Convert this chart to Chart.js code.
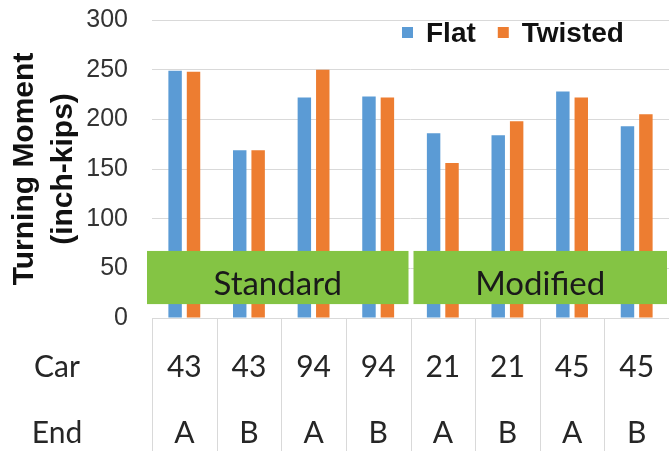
<!DOCTYPE html>
<html>
<head>
<meta charset="utf-8">
<script src="https://cdn.jsdelivr.net/npm/chart.js@4"></script>
<style>
  html, body { margin: 0; padding: 0; background: #fff; }
  #wrap { width: 669px; height: 451px; }
</style>
</head>
<body>
<div id="wrap"><canvas id="momentChart"></canvas></div>
<script>
const carLabels = ["43", "43", "94", "94", "21", "21", "45", "45"];
const endLabels = ["A", "B", "A", "B", "A", "B", "A", "B"];
const flatValues = [249, 169, 222, 223, 186, 184, 228, 193];
const twistedValues = [248, 169, 250, 222, 156, 198, 222, 205];
const groupNames = ["Standard", "Modified"];
const groupStarts = [0, 4];
const groupEnds = [3, 7];
const yTicks = [0, 50, 100, 150, 200, 250, 300];

const BLUE = "#5b9bd5";
const ORANGE = "#ed7d31";
const GREEN = "#84c444";
const GRID = "#d9d9d9";
const LABEL_PAD = 16;
const LINE_H = 66;

// table under the plot, green group boxes and the legend
const overlayPlugin = {
    id: "overlay",
    afterDatasetsDraw(chart) {
        const { ctx, chartArea, scales } = chart;
        const y = scales.y;
        const w = (chartArea.right - chartArea.left) / carLabels.length;

        // group boxes
        ctx.save();
        for (let g = 0; g < groupNames.length; g++) {
            const x1 = chartArea.left + groupStarts[g] * w + (groupStarts[g] === 0 ? -5 : 3);
            const x2 = chartArea.left + (groupEnds[g] + 1) * w - 2;
            const yTop = y.getPixelForValue(67.5);
            const yBot = y.getPixelForValue(14);
            ctx.fillStyle = GREEN;
            ctx.fillRect(x1, yTop, x2 - x1, yBot - yTop);
            ctx.fillStyle = "#1a1a1a";
            ctx.font = "33px Lato";
            ctx.textAlign = "center";
            ctx.textBaseline = "alphabetic";
            ctx.fillText(groupNames[g], (x1 + x2) / 2, yBot - 9);
        }
        ctx.restore();
    },
    afterDraw(chart) {
        const { ctx, chartArea } = chart;
        const w = (chartArea.right - chartArea.left) / carLabels.length;
        ctx.save();

        // table lines
        ctx.strokeStyle = GRID;
        ctx.lineWidth = 1;
        for (let i = 0; i <= carLabels.length; i++) {
            const px = Math.round(chartArea.left + i * w) + 0.5;
            ctx.beginPath();
            ctx.moveTo(px, chartArea.bottom);
            ctx.lineTo(px, chart.height);
            ctx.stroke();
        }

        // row titles
        ctx.fillStyle = "#262626";
        ctx.font = "30px Lato";
        ctx.textAlign = "center";
        ctx.textBaseline = "middle";
        const row1 = chartArea.bottom + LABEL_PAD + LINE_H / 2;
        ctx.fillText("Car", 57, row1);
        ctx.fillText("End", 57, row1 + LINE_H);

        // legend
        ctx.font = "bold 28px 'Liberation Sans'";
        ctx.textAlign = "left";
        const ly = 33;
        let lx = 402;
        chart.data.datasets.forEach(ds => {
            ctx.fillStyle = ds.backgroundColor;
            ctx.fillRect(lx, ly - 6, 11, 11);
            ctx.fillStyle = "#111";
            ctx.fillText(ds.label, lx + 24, ly + 1);
            lx += 24 + ctx.measureText(ds.label).width + 22;
        });
        ctx.restore();
    }
};

const chartLabels = carLabels.map((c, i) => [c, endLabels[i]]);

new Chart(document.getElementById("momentChart"), {
    type: "bar",
    data: {
        labels: chartLabels,
        datasets: [
            {
                label: "Flat",
                data: flatValues,
                backgroundColor: BLUE,
                categoryPercentage: 0.57,
                barPercentage: 0.73
            },
            {
                label: "Twisted",
                data: twistedValues,
                backgroundColor: ORANGE,
                categoryPercentage: 0.57,
                barPercentage: 0.73
            }
        ]
    },
    options: {
        responsive: true,
        maintainAspectRatio: false,
        animation: false,
        layout: { padding: { top: 20, right: 0, bottom: 0, left: 0 } },
        plugins: {
            legend: { display: false },
            tooltip: { enabled: false }
        },
        scales: {
            x: {
                grid: { display: false, drawTicks: false },
                border: { display: true, color: GRID },
                ticks: {
                    color: "#262626",
                    font: { family: "Lato", size: 30, lineHeight: LINE_H / 30 },
                    padding: LABEL_PAD,
                    maxRotation: 0,
                    autoSkip: false
                },
                afterFit: scale => {
                    scale.height = 133;
                    scale.paddingLeft = 0;
                    scale.paddingRight = 0;
                }
            },
            y: {
                min: 0,
                max: 300,
                afterBuildTicks: scale => { scale.ticks = yTicks.map(v => ({ value: v })); },
                grid: { color: GRID, drawTicks: false },
                border: { display: false },
                ticks: {
                    color: "#333",
                    font: { family: "'Liberation Sans'", size: 25 },
                    padding: 24
                },
                title: {
                    display: true,
                    text: ["Turning Moment", "(inch-kips)"],
                    color: "#111",
                    font: { family: "'Liberation Sans'", size: 30, weight: "bold", lineHeight: 1.3 },
                    padding: { top: 5, bottom: 0 }
                },
                afterFit: scale => {
                    scale.width = 152;
                    scale.paddingTop = 0;
                    scale.paddingBottom = 0;
                }
            }
        }
    },
    plugins: [overlayPlugin]
});
</script>
</body>
</html>
